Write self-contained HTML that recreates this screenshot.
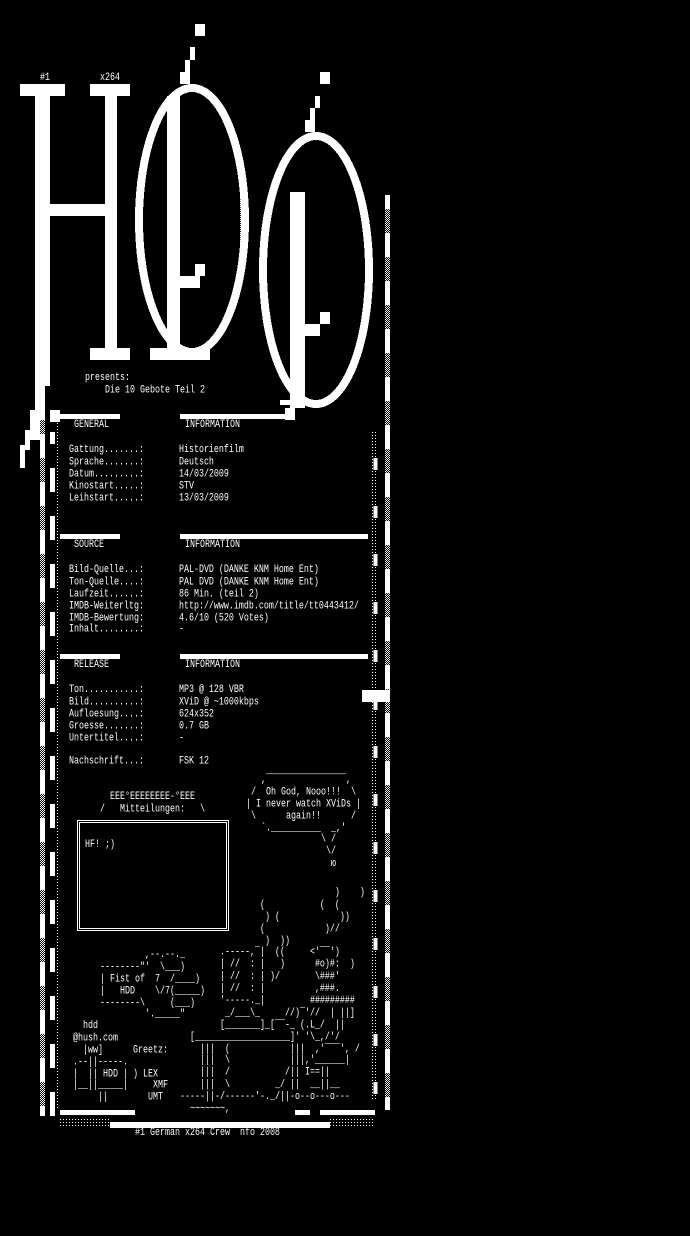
<!DOCTYPE html>
<html><head><meta charset="utf-8">
<style>
html,body{margin:0;padding:0;background:#000;}
body{width:690px;height:1236px;position:relative;overflow:hidden;}
svg{position:absolute;left:0;top:0;}
.t{position:absolute;font-family:"Liberation Mono","DejaVu Sans Mono",monospace;font-size:8.33px;line-height:8.89px;white-space:pre;color:#fff;transform:scaleY(1.35);transform-origin:0 0;margin:0;}
</style></head><body>
<svg width="690" height="1236" viewBox="0 0 690 1236" shape-rendering="crispEdges">
<defs>
<pattern id="dot" width="2" height="2" patternUnits="userSpaceOnUse"><rect width="1" height="1" fill="#fff"/><rect x="1" y="1" width="1" height="1" fill="#fff"/></pattern>
<pattern id="dot2" width="3" height="3" patternUnits="userSpaceOnUse"><rect width="1" height="1" fill="#fff"/></pattern>
</defs>
<g fill="#fff">
<rect x="20" y="84" width="45" height="12"/>
<rect x="35" y="96" width="15" height="290"/>
<rect x="50" y="204" width="55" height="12"/>
<rect x="90" y="84" width="40" height="12"/>
<rect x="105" y="96" width="12" height="252"/>
<rect x="90" y="348" width="40" height="12"/>
<polygon points="35,385 45,385 45,420 40,420 40,440 30,440 30,450 25,450 25,468 20,468 20,445 25,445 25,430 30,430 30,410 35,410"/>
<rect x="50" y="410" width="10" height="12"/>
<rect x="195" y="24" width="10" height="12"/>
<rect x="190" y="47" width="5" height="13"/>
<rect x="185" y="60" width="5" height="12"/>
<rect x="180" y="72" width="10" height="12"/>
<rect x="167" y="96" width="13" height="252"/>
<rect x="150" y="348" width="60" height="12"/>
<rect x="180" y="276" width="20" height="12"/>
<rect x="195" y="264" width="10" height="12"/>
<rect x="320" y="72" width="10" height="12"/>
<rect x="315" y="96" width="5" height="12"/>
<rect x="310" y="108" width="5" height="12"/>
<rect x="305" y="120" width="10" height="12"/>
<rect x="290" y="192" width="15" height="216"/>
<rect x="305" y="324" width="15" height="12"/>
<rect x="320" y="312" width="10" height="12"/>
</g>
<ellipse cx="192" cy="220" rx="53" ry="132" fill="none" stroke="#fff" stroke-width="8"/>
<ellipse cx="316" cy="270" rx="53" ry="134" fill="none" stroke="#fff" stroke-width="8"/>
<rect x="167" y="96" width="13" height="252" fill="#fff"/>
<rect x="170" y="168" width="5" height="180" fill="url(#dot)"/>
<rect x="40" y="96" width="5" height="290" fill="url(#dot)"/>
<rect x="240" y="180" width="5" height="70" fill="url(#dot)"/>
<rect x="365" y="230" width="5" height="70" fill="url(#dot)"/>
<rect x="295" y="216" width="5" height="192" fill="url(#dot)"/>
<rect x="285" y="408" width="10" height="12" fill="#fff"/>
<line x1="42.5" y1="386" x2="42.5" y2="1116" stroke="url(#dot)" stroke-width="5"/>
<rect x="40" y="386" width="5" height="730" fill="url(#dot)"/>
<g stroke-dasharray="24 24">
<line x1="42.5" y1="386" x2="42.5" y2="1116" stroke="#fff" stroke-width="5"/>
<line x1="52.5" y1="432" x2="52.5" y2="1116" stroke="#fff" stroke-width="5" stroke-dashoffset="12"/>
<line x1="387.5" y1="195" x2="387.5" y2="1110" stroke="#fff" stroke-width="5" stroke-dashoffset="10"/>
<line x1="375.5" y1="430" x2="375.5" y2="1110" stroke="#fff" stroke-width="4" stroke-dashoffset="20" stroke-dasharray="12 36"/>
</g>
<rect x="385" y="195" width="5" height="915" fill="url(#dot)" opacity="0.9"/>
<rect x="372" y="430" width="5" height="670" fill="url(#dot2)"/>
<rect x="55" y="420" width="5" height="690" fill="url(#dot2)"/>
<g fill="#fff">
<rect x="60" y="414" width="60" height="5"/>
<rect x="180" y="414" width="108" height="5"/>
<rect x="280" y="400" width="35" height="5"/>
<rect x="60" y="534" width="60" height="5"/>
<rect x="180" y="534" width="188" height="5"/>
<rect x="60" y="654" width="60" height="5"/>
<rect x="180" y="654" width="188" height="5"/>
<rect x="362" y="690" width="28" height="12"/>
<rect x="60" y="1110" width="75" height="5"/>
<rect x="295" y="1110" width="15" height="5"/>
<rect x="320" y="1110" width="55" height="5"/>
<rect x="110" y="1122" width="220" height="6"/>
</g>
<rect x="60" y="1118" width="50" height="8" fill="url(#dot2)"/>
<rect x="330" y="1118" width="45" height="8" fill="url(#dot2)"/>
<rect x="77.5" y="820.5" width="151" height="110" fill="none" stroke="#fff"/>
<rect x="79.5" y="822.5" width="147" height="106" fill="none" stroke="#fff"/>
</svg>

<div class="t" style="left:40px;top:72px">#1</div>
<div class="t" style="left:100px;top:72px">x264</div>
<div class="t" style="left:85px;top:372px">presents:
    Die 10 Gebote Teil 2</div>

<div class="t" style="left:74px;top:419px">GENERAL</div>
<div class="t" style="left:185px;top:419px">INFORMATION</div>
<div class="t" style="left:69px;top:444px">Gattung.......:       Historienfilm
Sprache.......:       Deutsch
Datum.........:       14/03/2009
Kinostart.....:       STV
Leihstart.....:       13/03/2009</div>

<div class="t" style="left:74px;top:539px">SOURCE</div>
<div class="t" style="left:185px;top:539px">INFORMATION</div>
<div class="t" style="left:69px;top:564px">Bild-Quelle...:       PAL-DVD (DANKE KNM Home Ent)
Ton-Quelle....:       PAL DVD (DANKE KNM Home Ent)
Laufzeit......:       86 Min. (teil 2)
IMDB-Weiterltg:       http://www.imdb.com/title/tt0443412/
IMDB-Bewertung:       4.6/10 (520 Votes)
Inhalt........:       -</div>

<div class="t" style="left:74px;top:659px">RELEASE</div>
<div class="t" style="left:185px;top:659px">INFORMATION</div>
<div class="t" style="left:69px;top:684px">Ton...........:       MP3 @ 128 VBR
Bild..........:       XViD @ ~1000kbps
Aufloesung....:       624x352
Groesse.......:       0.7 GB
Untertitel....:       -

Nachschrift...:       FSK 12</div>

<div class="t" style="left:100px;top:791px">  EEE°EEEEEEEE-°EEE
/   Mitteilungen:   \</div>
<div class="t" style="left:85px;top:839px">HF! ;)</div>

<div class="t" style="left:246px;top:774px">   ,‾‾‾‾‾‾‾‾‾‾‾‾‾‾‾‾,
 /  Oh God, Nooo!!!  \
| I never watch XViDs |
 \      again!!      /
   `.__________  _,'
               \ /
                \/
                 ю</div>

<div class="t" style="left:180px;top:887px">                               )    )
                (           (  (
                 ) (            ))
                (            )//
                 )  ))
        .-----,‾|  ((     &lt;'‾‾')
        | //  : |   )      #o)#:  )
        | //  : | )/       \###'
        | //  : |          ,###.
        '-----._|         #########
         _/___\_     //)‾'//  | ||]
        [_______]_[‾‾-_ (.L_/  ||
  [___________________]' '\_,/'/
    |||  (            |||  ,'‾‾‾', /
    |||  \            |||,'______|
    |||  /           /|| I==||
    |||  \         _/ ||  __||__
-----||-/------'-._/||-o--o---o---
  ~~~~~~~,</div>

<div class="t" style="left:100px;top:949px">         ,--.--._
--------&quot;'  \___)
| Fist of  7  /____)
|   HDD    \/7(_____)
--------\     (___)
         '._____&quot;</div>

<div class="t" style="left:73px;top:1020px">  hdd
@hush.com
  |ww]      Greetz:
.--||-----.
|  || HDD | ) LEX
|__||_____|     XMF
     ||        UMT</div>

<div class="t" style="left:135px;top:1127px">#1 German x264 Crew  nfo 2008</div>
</body></html>
